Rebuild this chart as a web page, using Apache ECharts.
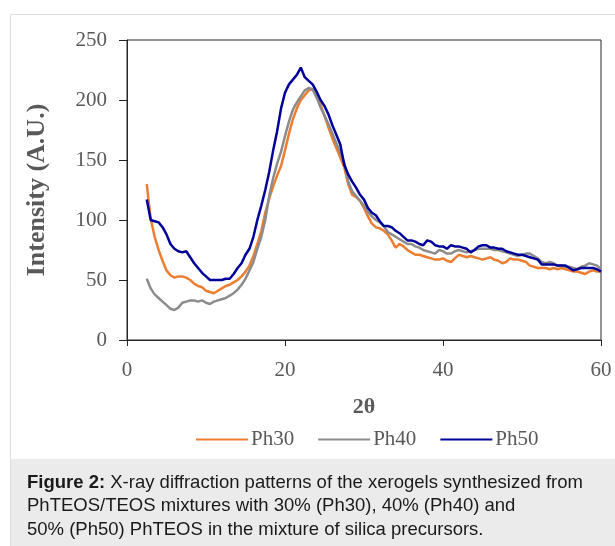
<!DOCTYPE html>
<html>
<head>
<meta charset="utf-8">
<script src="https://cdn.jsdelivr.net/npm/echarts@6/dist/echarts.min.js"></script>
<style>html,body{margin:0;padding:0;background:#fff;}#c{width:615px;height:546px;}</style>
</head>
<body>
<div id="c"></div>
<script>
const twoTheta = [2.5,3,3.5,4,4.5,5,5.5,6,6.5,7,7.5,8,8.5,9,9.5,10,10.5,11,11.5,12,12.5,13,13.5,14,14.5,15,15.5,16,16.5,17,17.5,18,18.5,19,19.5,20,20.5,21,21.5,22,22.5,23,23.5,24,24.5,25,25.5,26,26.5,27,27.5,28,28.5,29,29.5,30,30.5,31,31.5,32,32.5,33,33.5,34,34.5,35,35.5,36,36.5,37,37.5,38,38.5,39,39.5,40,40.5,41,41.5,42,42.5,43,43.5,44,44.5,45,45.5,46,46.5,47,47.5,48,48.5,49,49.5,50,50.5,51,51.5,52,52.5,53,53.5,54,54.5,55,55.5,56,56.5,57,57.5,58,58.5,59,59.5,60];
const ph30 = [130,101,86,75,66,58,54,52,53,53,52,50,47,45,44,41,40,39,41,43,45,46,48,50,53,57,62,70,80,91,106,118,128,137,145,158,172,184,193,200,204,208,209,203,196,187,177,168,160,152,144,130,121,119,116,110,103,97,94,93,91,88,83,77,80,78,75,73,71,71,70,69,68,67,67,68,66,65,68,71,70,69,70,69,68,67,68,69,67,66,64,65,68,67,67,66,65,62,61,60,60,60,59,60,59,60,59,58,57,57,56,55,57,58,57,57];
const ph40 = [51,43,38,35,32,29,26,25,27,31,32,33,33,32,33,31,30,32,33,34,35,37,39,42,46,51,58,65,76,86,100,120,135,147,157,170,182,192,198,203,208,210,209,202,194,187,180,172,164,156,148,132,124,120,116,112,107,103,100,98,95,90,88,86,84,82,80,80,78,77,75,74,73,72,75,74,72,72,74,75,74,73,74,75,76,76,76,76,75,75,74,73,72,71,70,71,72,72,70,68,65,64,65,64,62,62,61,61,60,59,61,62,64,63,62,59];
const ph50 = [117,100,99,98,94,88,80,76,74,73,74,69,64,60,56,53,50,50,50,50,51,51,55,60,64,71,76,86,100,112,125,140,158,174,193,206,213,217,221,227,219,216,213,207,200,195,188,179,171,163,146,138,132,127,121,117,110,106,104,99,95,95,94,91,89,86,83,83,82,80,79,83,82,79,78,78,76,79,78,78,77,76,73,75,78,79,79,77,77,76,76,74,73,72,71,71,70,69,68,67,63,63,63,63,62,62,62,60,58,59,60,60,60,60,59,57];
const seriesNames = ['Ph30','Ph40','Ph50'];
const seriesColors = ['#ED7D31','#8C8C8C','#000099'];
const yTicks = [0,50,100,150,200,250];
const xTicks = [0,20,40,60];
const captionLines = [
  ['Figure 2:', ' X-ray diffraction patterns of the xerogels synthesized from'],
  ['', 'PhTEOS/TEOS mixtures with 30% (Ph30), 40% (Ph40) and'],
  ['', '50% (Ph50) PhTEOS in the mixture of silica precursors.']
];

const chart = echarts.init(document.getElementById('c'), null, {renderer:'canvas'});
const seriesData = [ph30, ph40, ph50];
const serif = '"Liberation Serif","Times New Roman",serif';
const lbl = {fontFamily: serif, fontSize: 21, color: '#595959'};

const graphics = [
  {type:'rect', z:-10, shape:{x:10.5,y:14.5,width:620,height:560}, style:{fill:'#fff', stroke:'#dedede', lineWidth:1}},
  {type:'rect', z:-9, shape:{x:11,y:459,width:610,height:100}, style:{fill:'#ebebeb'}}
];
captionLines.forEach((ln, i) => {
  graphics.push({
    type:'text', z:10, left:27, top:473 + i*23.5,
    style:{
      text: (ln[0] ? '{b|' + ln[0] + '}' : '') + '{n|' + ln[1] + '}',
      rich:{
        b:{fontFamily:'"Liberation Sans",Arial,sans-serif', fontSize:18.5, fontWeight:'bold', fill:'#1a1a1a'},
        n:{fontFamily:'"Liberation Sans",Arial,sans-serif', fontSize:18.5, fill:'#1a1a1a'}
      }
    }
  });
});

chart.setOption({
  animation:false,
  backgroundColor:'#fff',
  graphic: graphics,
  grid:{left:127, right:14, top:40, height:300, show:true, borderColor:'#262626', borderWidth:1, backgroundColor:'transparent'},
  legend:{
    data: seriesNames, left:191, top:424, itemWidth:52, itemHeight:14, itemGap:24,
    icon:'path://M0,6 L52,6 L52,8 L0,8 Z',
    textStyle:{fontFamily: serif, fontSize:21, color:'#595959', padding:[0,0,0,-2]}
  },
  xAxis:{
    type:'value', min:0, max:60, interval:20,
    name:'2θ', nameLocation:'middle', nameGap:56,
    nameTextStyle:{fontFamily: serif, fontSize:22, fontWeight:'bold', color:'#595959'},
    axisLine:{show:true, onZero:false, lineStyle:{color:'#262626', width:1}},
    axisTick:{show:true, length:6, lineStyle:{color:'#262626'}},
    axisLabel:{...lbl, margin:20, formatter: v => xTicks.includes(v) ? String(v) : ''},
    splitLine:{show:false}
  },
  yAxis:{
    type:'value', min:0, max:250, interval:50,
    name:'Intensity (A.U.)', nameLocation:'middle', nameGap:77,
    nameTextStyle:{fontFamily: serif, fontSize:26, fontWeight:'bold', color:'#595959'},
    axisLine:{show:true, lineStyle:{color:'#262626', width:1}},
    axisTick:{show:true, length:8, lineStyle:{color:'#262626'}},
    axisLabel:{...lbl, margin:20, formatter: v => yTicks.includes(v) ? String(v) : ''},
    splitLine:{show:false}
  },
  series: seriesNames.map((n, i) => ({
    name:n, type:'line', symbol:'none', smooth:false,
    data: twoTheta.map((x, j) => [x, seriesData[i][j]]),
    lineStyle:{color:seriesColors[i], width:2.5},
    itemStyle:{color:seriesColors[i]}
  }))
});
</script>
</body>
</html>
